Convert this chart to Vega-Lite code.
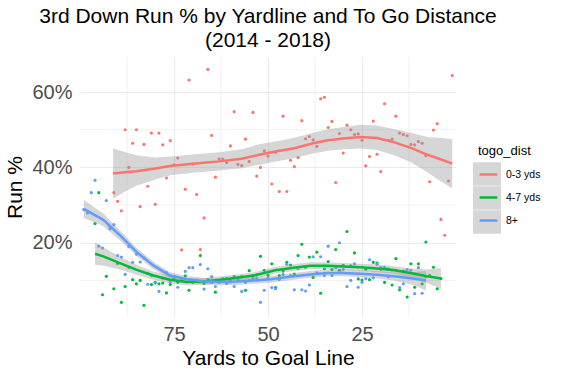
{
"$schema":"https://vega.github.io/schema/vega-lite/v6.json",
"width":376,"height":260,
"autosize":{"type":"none"},
"padding":{"left":80,"top":57,"right":105,"bottom":57},
"background":"white",
"title":{"text":["3rd Down Run % by Yardline and To Go Distance","(2014 - 2018)"],"fontSize":21,"font":"Liberation Sans","fontWeight":"normal","color":"#000","anchor":"middle","lineHeight":24,"offset":6,"frame":"group"},
"config":{"font":"Liberation Sans","view":{"stroke":null},
"axis":{"labelFont":"Liberation Sans","titleFont":"Liberation Sans","labelFontSize":20,"labelColor":"#4d4d4d","domain":false,"ticks":false,"gridColor":"#ebebeb","gridWidth":1.1,"titleFontSize":21,"titleFontWeight":"normal","titleColor":"#000"},
"legend":{"labelFont":"Liberation Sans","titleFont":"Liberation Sans"}},
"datasets":{
"pts":[
{"x":91,"y":0.333,"g":"0-3 yds"},{"x":90,"y":0.310,"g":"0-3 yds"},{"x":89,"y":0.285,"g":"0-3 yds"},{"x":88,"y":0.500,"g":"0-3 yds"},{"x":87,"y":0.400,"g":"0-3 yds"},{"x":86,"y":0.464,"g":"0-3 yds"},{"x":85,"y":0.500,"g":"0-3 yds"},{"x":84,"y":0.296,"g":"0-3 yds"},{"x":83,"y":0.461,"g":"0-3 yds"},{"x":82,"y":0.350,"g":"0-3 yds"},{"x":81,"y":0.491,"g":"0-3 yds"},{"x":80,"y":0.302,"g":"0-3 yds"},{"x":79,"y":0.491,"g":"0-3 yds"},{"x":78,"y":0.460,"g":"0-3 yds"},{"x":77,"y":0.372,"g":"0-3 yds"},{"x":76,"y":0.471,"g":"0-3 yds"},{"x":75,"y":0.407,"g":"0-3 yds"},{"x":74,"y":0.425,"g":"0-3 yds"},{"x":73,"y":0.181,"g":"0-3 yds"},{"x":72,"y":0.342,"g":"0-3 yds"},{"x":71,"y":0.632,"g":"0-3 yds"},{"x":70,"y":0.409,"g":"0-3 yds"},{"x":69,"y":0.328,"g":"0-3 yds"},{"x":68,"y":0.182,"g":"0-3 yds"},{"x":67,"y":0.266,"g":"0-3 yds"},{"x":66,"y":0.660,"g":"0-3 yds"},{"x":65,"y":0.485,"g":"0-3 yds"},{"x":64,"y":0.374,"g":"0-3 yds"},{"x":63,"y":0.422,"g":"0-3 yds"},{"x":62,"y":0.422,"g":"0-3 yds"},{"x":61,"y":0.413,"g":"0-3 yds"},{"x":60,"y":0.457,"g":"0-3 yds"},{"x":59,"y":0.548,"g":"0-3 yds"},{"x":58,"y":0.408,"g":"0-3 yds"},{"x":57,"y":0.405,"g":"0-3 yds"},{"x":56,"y":0.475,"g":"0-3 yds"},{"x":55,"y":0.416,"g":"0-3 yds"},{"x":54,"y":0.546,"g":"0-3 yds"},{"x":53,"y":0.377,"g":"0-3 yds"},{"x":52,"y":0.400,"g":"0-3 yds"},{"x":51,"y":0.444,"g":"0-3 yds"},{"x":50,"y":0.430,"g":"0-3 yds"},{"x":49,"y":0.356,"g":"0-3 yds"},{"x":48,"y":0.440,"g":"0-3 yds"},{"x":47,"y":0.336,"g":"0-3 yds"},{"x":46,"y":0.536,"g":"0-3 yds"},{"x":45,"y":0.336,"g":"0-3 yds"},{"x":44,"y":0.419,"g":"0-3 yds"},{"x":43,"y":0.402,"g":"0-3 yds"},{"x":42,"y":0.426,"g":"0-3 yds"},{"x":41,"y":0.524,"g":"0-3 yds"},{"x":40,"y":0.476,"g":"0-3 yds"},{"x":39,"y":0.482,"g":"0-3 yds"},{"x":38,"y":0.473,"g":"0-3 yds"},{"x":37,"y":0.456,"g":"0-3 yds"},{"x":36,"y":0.582,"g":"0-3 yds"},{"x":35,"y":0.586,"g":"0-3 yds"},{"x":34,"y":0.506,"g":"0-3 yds"},{"x":33,"y":0.522,"g":"0-3 yds"},{"x":32,"y":0.360,"g":"0-3 yds"},{"x":31,"y":0.490,"g":"0-3 yds"},{"x":30,"y":0.438,"g":"0-3 yds"},{"x":29,"y":0.512,"g":"0-3 yds"},{"x":28,"y":0.500,"g":"0-3 yds"},{"x":27,"y":0.487,"g":"0-3 yds"},{"x":26,"y":0.489,"g":"0-3 yds"},{"x":25,"y":0.472,"g":"0-3 yds"},{"x":24,"y":0.404,"g":"0-3 yds"},{"x":23,"y":0.429,"g":"0-3 yds"},{"x":22,"y":0.523,"g":"0-3 yds"},{"x":21,"y":0.435,"g":"0-3 yds"},{"x":20,"y":0.389,"g":"0-3 yds"},{"x":19,"y":0.569,"g":"0-3 yds"},{"x":18,"y":0.472,"g":"0-3 yds"},{"x":17,"y":0.475,"g":"0-3 yds"},{"x":16,"y":0.536,"g":"0-3 yds"},{"x":15,"y":0.491,"g":"0-3 yds"},{"x":14,"y":0.487,"g":"0-3 yds"},{"x":13,"y":0.484,"g":"0-3 yds"},{"x":12,"y":0.461,"g":"0-3 yds"},{"x":11,"y":0.460,"g":"0-3 yds"},{"x":10,"y":0.469,"g":"0-3 yds"},{"x":9,"y":0.464,"g":"0-3 yds"},{"x":8,"y":0.431,"g":"0-3 yds"},{"x":7,"y":0.362,"g":"0-3 yds"},{"x":6,"y":0.499,"g":"0-3 yds"},{"x":5,"y":0.516,"g":"0-3 yds"},{"x":4,"y":0.262,"g":"0-3 yds"},{"x":3,"y":0.220,"g":"0-3 yds"},{"x":2,"y":0.364,"g":"0-3 yds"},{"x":1,"y":0.644,"g":"0-3 yds"},
{"x":96,"y":0.251,"g":"4-7 yds"},{"x":95,"y":0.333,"g":"4-7 yds"},{"x":94,"y":0.062,"g":"4-7 yds"},{"x":93,"y":0.111,"g":"4-7 yds"},{"x":92,"y":0.243,"g":"4-7 yds"},{"x":91,"y":0.078,"g":"4-7 yds"},{"x":90,"y":0.145,"g":"4-7 yds"},{"x":89,"y":0.042,"g":"4-7 yds"},{"x":88,"y":0.084,"g":"4-7 yds"},{"x":87,"y":0.135,"g":"4-7 yds"},{"x":86,"y":0.102,"g":"4-7 yds"},{"x":85,"y":0.091,"g":"4-7 yds"},{"x":84,"y":0.100,"g":"4-7 yds"},{"x":83,"y":0.034,"g":"4-7 yds"},{"x":82,"y":0.119,"g":"4-7 yds"},{"x":81,"y":0.089,"g":"4-7 yds"},{"x":80,"y":0.095,"g":"4-7 yds"},{"x":79,"y":0.091,"g":"4-7 yds"},{"x":78,"y":0.093,"g":"4-7 yds"},{"x":77,"y":0.067,"g":"4-7 yds"},{"x":76,"y":0.089,"g":"4-7 yds"},{"x":75,"y":0.105,"g":"4-7 yds"},{"x":74,"y":0.095,"g":"4-7 yds"},{"x":73,"y":0.100,"g":"4-7 yds"},{"x":72,"y":0.112,"g":"4-7 yds"},{"x":71,"y":0.074,"g":"4-7 yds"},{"x":70,"y":0.095,"g":"4-7 yds"},{"x":69,"y":0.100,"g":"4-7 yds"},{"x":68,"y":0.166,"g":"4-7 yds"},{"x":67,"y":0.092,"g":"4-7 yds"},{"x":66,"y":0.102,"g":"4-7 yds"},{"x":65,"y":0.095,"g":"4-7 yds"},{"x":64,"y":0.069,"g":"4-7 yds"},{"x":63,"y":0.100,"g":"4-7 yds"},{"x":62,"y":0.104,"g":"4-7 yds"},{"x":61,"y":0.105,"g":"4-7 yds"},{"x":60,"y":0.100,"g":"4-7 yds"},{"x":59,"y":0.110,"g":"4-7 yds"},{"x":58,"y":0.107,"g":"4-7 yds"},{"x":57,"y":0.110,"g":"4-7 yds"},{"x":56,"y":0.074,"g":"4-7 yds"},{"x":55,"y":0.126,"g":"4-7 yds"},{"x":54,"y":0.113,"g":"4-7 yds"},{"x":53,"y":0.115,"g":"4-7 yds"},{"x":52,"y":0.164,"g":"4-7 yds"},{"x":51,"y":0.127,"g":"4-7 yds"},{"x":50,"y":0.114,"g":"4-7 yds"},{"x":49,"y":0.144,"g":"4-7 yds"},{"x":48,"y":0.081,"g":"4-7 yds"},{"x":47,"y":0.113,"g":"4-7 yds"},{"x":46,"y":0.125,"g":"4-7 yds"},{"x":45,"y":0.148,"g":"4-7 yds"},{"x":44,"y":0.141,"g":"4-7 yds"},{"x":43,"y":0.117,"g":"4-7 yds"},{"x":42,"y":0.166,"g":"4-7 yds"},{"x":41,"y":0.196,"g":"4-7 yds"},{"x":40,"y":0.135,"g":"4-7 yds"},{"x":39,"y":0.162,"g":"4-7 yds"},{"x":38,"y":0.108,"g":"4-7 yds"},{"x":37,"y":0.175,"g":"4-7 yds"},{"x":36,"y":0.066,"g":"4-7 yds"},{"x":35,"y":0.131,"g":"4-7 yds"},{"x":34,"y":0.150,"g":"4-7 yds"},{"x":33,"y":0.129,"g":"4-7 yds"},{"x":32,"y":0.182,"g":"4-7 yds"},{"x":31,"y":0.127,"g":"4-7 yds"},{"x":30,"y":0.140,"g":"4-7 yds"},{"x":29,"y":0.230,"g":"4-7 yds"},{"x":28,"y":0.139,"g":"4-7 yds"},{"x":27,"y":0.173,"g":"4-7 yds"},{"x":26,"y":0.104,"g":"4-7 yds"},{"x":25,"y":0.101,"g":"4-7 yds"},{"x":24,"y":0.130,"g":"4-7 yds"},{"x":23,"y":0.102,"g":"4-7 yds"},{"x":22,"y":0.148,"g":"4-7 yds"},{"x":21,"y":0.146,"g":"4-7 yds"},{"x":20,"y":0.130,"g":"4-7 yds"},{"x":19,"y":0.095,"g":"4-7 yds"},{"x":18,"y":0.130,"g":"4-7 yds"},{"x":17,"y":0.088,"g":"4-7 yds"},{"x":16,"y":0.158,"g":"4-7 yds"},{"x":15,"y":0.075,"g":"4-7 yds"},{"x":14,"y":0.125,"g":"4-7 yds"},{"x":13,"y":0.056,"g":"4-7 yds"},{"x":12,"y":0.144,"g":"4-7 yds"},{"x":11,"y":0.082,"g":"4-7 yds"},{"x":10,"y":0.144,"g":"4-7 yds"},{"x":9,"y":0.091,"g":"4-7 yds"},{"x":8,"y":0.202,"g":"4-7 yds"},{"x":7,"y":0.113,"g":"4-7 yds"},{"x":6,"y":0.135,"g":"4-7 yds"},{"x":5,"y":0.078,"g":"4-7 yds"},{"x":4,"y":0.105,"g":"4-7 yds"},
{"x":99,"y":0.288,"g":"8+"},{"x":98,"y":0.279,"g":"8+"},{"x":97,"y":0.333,"g":"8+"},{"x":96,"y":0.366,"g":"8+"},{"x":95,"y":0.191,"g":"8+"},{"x":94,"y":0.186,"g":"8+"},{"x":93,"y":0.312,"g":"8+"},{"x":92,"y":0.237,"g":"8+"},{"x":91,"y":0.248,"g":"8+"},{"x":90,"y":0.166,"g":"8+"},{"x":89,"y":0.162,"g":"8+"},{"x":88,"y":0.116,"g":"8+"},{"x":87,"y":0.190,"g":"8+"},{"x":86,"y":0.148,"g":"8+"},{"x":85,"y":0.170,"g":"8+"},{"x":84,"y":0.149,"g":"8+"},{"x":83,"y":0.160,"g":"8+"},{"x":82,"y":0.090,"g":"8+"},{"x":81,"y":0.113,"g":"8+"},{"x":80,"y":0.093,"g":"8+"},{"x":79,"y":0.071,"g":"8+"},{"x":78,"y":0.106,"g":"8+"},{"x":77,"y":0.121,"g":"8+"},{"x":76,"y":0.096,"g":"8+"},{"x":75,"y":0.110,"g":"8+"},{"x":74,"y":0.082,"g":"8+"},{"x":73,"y":0.105,"g":"8+"},{"x":72,"y":0.124,"g":"8+"},{"x":71,"y":0.134,"g":"8+"},{"x":70,"y":0.134,"g":"8+"},{"x":69,"y":0.100,"g":"8+"},{"x":68,"y":0.142,"g":"8+"},{"x":67,"y":0.077,"g":"8+"},{"x":66,"y":0.131,"g":"8+"},{"x":65,"y":0.110,"g":"8+"},{"x":64,"y":0.084,"g":"8+"},{"x":63,"y":0.095,"g":"8+"},{"x":62,"y":0.098,"g":"8+"},{"x":61,"y":0.092,"g":"8+"},{"x":60,"y":0.096,"g":"8+"},{"x":59,"y":0.084,"g":"8+"},{"x":58,"y":0.102,"g":"8+"},{"x":57,"y":0.071,"g":"8+"},{"x":56,"y":0.095,"g":"8+"},{"x":55,"y":0.100,"g":"8+"},{"x":54,"y":0.105,"g":"8+"},{"x":53,"y":0.105,"g":"8+"},{"x":52,"y":0.042,"g":"8+"},{"x":51,"y":0.074,"g":"8+"},{"x":50,"y":0.106,"g":"8+"},{"x":49,"y":0.081,"g":"8+"},{"x":48,"y":0.078,"g":"8+"},{"x":47,"y":0.103,"g":"8+"},{"x":46,"y":0.116,"g":"8+"},{"x":45,"y":0.143,"g":"8+"},{"x":44,"y":0.113,"g":"8+"},{"x":43,"y":0.075,"g":"8+"},{"x":42,"y":0.131,"g":"8+"},{"x":41,"y":0.075,"g":"8+"},{"x":40,"y":0.072,"g":"8+"},{"x":39,"y":0.088,"g":"8+"},{"x":38,"y":0.163,"g":"8+"},{"x":37,"y":0.120,"g":"8+"},{"x":36,"y":0.163,"g":"8+"},{"x":35,"y":0.113,"g":"8+"},{"x":34,"y":0.191,"g":"8+"},{"x":33,"y":0.113,"g":"8+"},{"x":32,"y":0.134,"g":"8+"},{"x":31,"y":0.200,"g":"8+"},{"x":30,"y":0.129,"g":"8+"},{"x":29,"y":0.084,"g":"8+"},{"x":28,"y":0.100,"g":"8+"},{"x":27,"y":0.144,"g":"8+"},{"x":26,"y":0.082,"g":"8+"},{"x":25,"y":0.095,"g":"8+"},{"x":24,"y":0.105,"g":"8+"},{"x":23,"y":0.155,"g":"8+"},{"x":22,"y":0.107,"g":"8+"},{"x":21,"y":0.143,"g":"8+"},{"x":20,"y":0.134,"g":"8+"},{"x":19,"y":0.135,"g":"8+"},{"x":18,"y":0.110,"g":"8+"},{"x":17,"y":0.127,"g":"8+"},{"x":16,"y":0.127,"g":"8+"},{"x":15,"y":0.081,"g":"8+"},{"x":14,"y":0.091,"g":"8+"},{"x":13,"y":0.129,"g":"8+"},{"x":12,"y":0.127,"g":"8+"},{"x":11,"y":0.065,"g":"8+"},{"x":10,"y":0.134,"g":"8+"},{"x":9,"y":0.066,"g":"8+"},{"x":8,"y":0.110,"g":"8+"}
],
"fit":[
{"x":91.2,"f":0.384,"lo":0.317,"hi":0.451,"g":"0-3 yds","k":"0-3 yds"},{"x":88,"f":0.387,"lo":0.336,"hi":0.440,"g":"0-3 yds","k":"0-3 yds"},{"x":85,"f":0.390,"lo":0.351,"hi":0.432,"g":"0-3 yds","k":"0-3 yds"},{"x":80,"f":0.397,"lo":0.368,"hi":0.426,"g":"0-3 yds","k":"0-3 yds"},{"x":76,"f":0.404,"lo":0.379,"hi":0.429,"g":"0-3 yds","k":"0-3 yds"},{"x":70,"f":0.410,"lo":0.386,"hi":0.434,"g":"0-3 yds","k":"0-3 yds"},{"x":63,"f":0.416,"lo":0.392,"hi":0.440,"g":"0-3 yds","k":"0-3 yds"},{"x":57,"f":0.423,"lo":0.398,"hi":0.448,"g":"0-3 yds","k":"0-3 yds"},{"x":52,"f":0.434,"lo":0.408,"hi":0.462,"g":"0-3 yds","k":"0-3 yds"},{"x":48,"f":0.442,"lo":0.416,"hi":0.469,"g":"0-3 yds","k":"0-3 yds"},{"x":43,"f":0.451,"lo":0.424,"hi":0.479,"g":"0-3 yds","k":"0-3 yds"},{"x":38,"f":0.464,"lo":0.437,"hi":0.492,"g":"0-3 yds","k":"0-3 yds"},{"x":34,"f":0.472,"lo":0.444,"hi":0.501,"g":"0-3 yds","k":"0-3 yds"},{"x":30,"f":0.477,"lo":0.448,"hi":0.507,"g":"0-3 yds","k":"0-3 yds"},{"x":25.5,"f":0.481,"lo":0.450,"hi":0.513,"g":"0-3 yds","k":"0-3 yds"},{"x":21,"f":0.478,"lo":0.446,"hi":0.511,"g":"0-3 yds","k":"0-3 yds"},{"x":16.6,"f":0.467,"lo":0.433,"hi":0.502,"g":"0-3 yds","k":"0-3 yds"},{"x":12,"f":0.452,"lo":0.414,"hi":0.492,"g":"0-3 yds","k":"0-3 yds"},{"x":7.7,"f":0.434,"lo":0.388,"hi":0.481,"g":"0-3 yds","k":"0-3 yds"},{"x":4.5,"f":0.423,"lo":0.366,"hi":0.479,"g":"0-3 yds","k":"0-3 yds"},{"x":1,"f":0.410,"lo":0.344,"hi":0.475,"g":"0-3 yds","k":"0-3 yds"},
{"x":96,"f":0.171,"lo":0.141,"hi":0.201,"g":"4-7 yds","k":"4-7 yds"},{"x":93.8,"f":0.164,"lo":0.140,"hi":0.188,"g":"4-7 yds","k":"4-7 yds"},{"x":89.4,"f":0.146,"lo":0.129,"hi":0.163,"g":"4-7 yds","k":"4-7 yds"},{"x":84.9,"f":0.128,"lo":0.115,"hi":0.141,"g":"4-7 yds","k":"4-7 yds"},{"x":80.5,"f":0.113,"lo":0.102,"hi":0.124,"g":"4-7 yds","k":"4-7 yds"},{"x":76.1,"f":0.102,"lo":0.092,"hi":0.112,"g":"4-7 yds","k":"4-7 yds"},{"x":71.6,"f":0.096,"lo":0.087,"hi":0.105,"g":"4-7 yds","k":"4-7 yds"},{"x":67.2,"f":0.097,"lo":0.088,"hi":0.106,"g":"4-7 yds","k":"4-7 yds"},{"x":62.7,"f":0.102,"lo":0.093,"hi":0.111,"g":"4-7 yds","k":"4-7 yds"},{"x":58.3,"f":0.107,"lo":0.098,"hi":0.116,"g":"4-7 yds","k":"4-7 yds"},{"x":53.8,"f":0.113,"lo":0.104,"hi":0.122,"g":"4-7 yds","k":"4-7 yds"},{"x":48.1,"f":0.127,"lo":0.118,"hi":0.136,"g":"4-7 yds","k":"4-7 yds"},{"x":43.2,"f":0.134,"lo":0.125,"hi":0.143,"g":"4-7 yds","k":"4-7 yds"},{"x":38.8,"f":0.139,"lo":0.130,"hi":0.148,"g":"4-7 yds","k":"4-7 yds"},{"x":34.3,"f":0.139,"lo":0.130,"hi":0.148,"g":"4-7 yds","k":"4-7 yds"},{"x":29.9,"f":0.137,"lo":0.128,"hi":0.146,"g":"4-7 yds","k":"4-7 yds"},{"x":25.5,"f":0.135,"lo":0.126,"hi":0.144,"g":"4-7 yds","k":"4-7 yds"},{"x":21,"f":0.132,"lo":0.122,"hi":0.142,"g":"4-7 yds","k":"4-7 yds"},{"x":16.6,"f":0.128,"lo":0.118,"hi":0.138,"g":"4-7 yds","k":"4-7 yds"},{"x":12.1,"f":0.120,"lo":0.108,"hi":0.132,"g":"4-7 yds","k":"4-7 yds"},{"x":7.7,"f":0.111,"lo":0.093,"hi":0.129,"g":"4-7 yds","k":"4-7 yds"},{"x":4,"f":0.105,"lo":0.077,"hi":0.133,"g":"4-7 yds","k":"4-7 yds"},
{"x":99,"f":0.290,"lo":0.266,"hi":0.314,"g":"8+","k":"8+"},{"x":96.5,"f":0.276,"lo":0.256,"hi":0.296,"g":"8+","k":"8+"},{"x":93.8,"f":0.261,"lo":0.244,"hi":0.278,"g":"8+","k":"8+"},{"x":89.4,"f":0.220,"lo":0.207,"hi":0.233,"g":"8+","k":"8+"},{"x":84.9,"f":0.175,"lo":0.164,"hi":0.186,"g":"8+","k":"8+"},{"x":80.5,"f":0.140,"lo":0.130,"hi":0.150,"g":"8+","k":"8+"},{"x":76.1,"f":0.113,"lo":0.104,"hi":0.122,"g":"8+","k":"8+"},{"x":71.6,"f":0.103,"lo":0.094,"hi":0.112,"g":"8+","k":"8+"},{"x":67.2,"f":0.098,"lo":0.089,"hi":0.107,"g":"8+","k":"8+"},{"x":62.7,"f":0.096,"lo":0.087,"hi":0.105,"g":"8+","k":"8+"},{"x":58.3,"f":0.097,"lo":0.088,"hi":0.106,"g":"8+","k":"8+"},{"x":53.8,"f":0.100,"lo":0.091,"hi":0.109,"g":"8+","k":"8+"},{"x":49.4,"f":0.103,"lo":0.094,"hi":0.112,"g":"8+","k":"8+"},{"x":43.2,"f":0.111,"lo":0.102,"hi":0.120,"g":"8+","k":"8+"},{"x":38.8,"f":0.116,"lo":0.107,"hi":0.125,"g":"8+","k":"8+"},{"x":34.3,"f":0.120,"lo":0.111,"hi":0.129,"g":"8+","k":"8+"},{"x":29.9,"f":0.120,"lo":0.111,"hi":0.129,"g":"8+","k":"8+"},{"x":25.5,"f":0.118,"lo":0.109,"hi":0.127,"g":"8+","k":"8+"},{"x":21,"f":0.115,"lo":0.105,"hi":0.125,"g":"8+","k":"8+"},{"x":16.6,"f":0.111,"lo":0.100,"hi":0.122,"g":"8+","k":"8+"},{"x":12,"f":0.106,"lo":0.090,"hi":0.122,"g":"8+","k":"8+"},{"x":8,"f":0.100,"lo":0.074,"hi":0.126,"g":"8+","k":"8+"}
]},
"layer":[
{"data":{"values":[{"y":0.1},{"y":0.3},{"y":0.5}]},
 "mark":{"type":"rule","color":"#ebebeb","strokeWidth":0.7},
 "encoding":{"y":{"field":"y","type":"quantitative","title":"Run %"}}},
{"data":{"values":[{"x":87.5},{"x":62.5},{"x":37.5},{"x":12.5}]},
 "mark":{"type":"rule","color":"#ebebeb","strokeWidth":0.7},
 "encoding":{"x":{"field":"x","type":"quantitative","title":"Yards to Goal Line"}}},
{"data":{"name":"pts"},
 "mark":{"type":"circle","size":10,"opacity":1},
 "encoding":{
  "x":{"field":"x","type":"quantitative","title":"Yards to Goal Line","scale":{"domain":[0,100],"reverse":true,"nice":false,"zero":false},"axis":{"values":[25,50,75],"grid":true,"labelPadding":7,"titlePadding":3}},
  "y":{"field":"y","type":"quantitative","title":"Run %","scale":{"domain":[0.003,0.693],"nice":false,"zero":false},"axis":{"values":[0.2,0.4,0.6],"format":".0%","grid":true,"labelPadding":8,"titlePadding":6}},
  "color":{"field":"g","type":"nominal","title":"togo_dist","scale":{"domain":["0-3 yds","4-7 yds","8+"],"range":["#F8766D","#00BA38","#619CFF"]},
   "legend":{"orient":"none","legendX":398,"legendY":88,"zindex":2,"titleFontSize":13,"titleFontWeight":"normal","titleColor":"#000","titlePadding":6,"padding":0,"symbolType":"stroke","symbolSize":313,"symbolStrokeWidth":2.5,"rowPadding":7,"labelFontSize":10.5,"labelColor":"#000","labelOffset":7}}}},
{"data":{"name":"fit"},
 "mark":{"type":"area","opacity":0.4},
 "encoding":{
  "x":{"field":"x","type":"quantitative","title":"Yards to Goal Line"},
  "y":{"field":"lo","type":"quantitative","title":"Run %"},
  "y2":{"field":"hi"},
  "fill":{"field":"k","type":"nominal","scale":{"range":["#999999","#999999","#999999"]},
   "legend":{"orient":"none","legendX":395,"legendY":105,"zindex":1,"padding":0,"title":null,"symbolType":"M-1.19,-1H1.19V1H-1.19Z","symbolSize":552,"symbolStrokeWidth":0,"symbolOpacity":0.4,"rowPadding":0,"labelExpr":"''"}}}},
{"data":{"name":"fit"},
 "mark":{"type":"line","strokeWidth":2.5},
 "encoding":{
  "x":{"field":"x","type":"quantitative","title":"Yards to Goal Line"},
  "y":{"field":"f","type":"quantitative","title":"Run %"},
  "color":{"field":"g","type":"nominal","title":"togo_dist"}}}
]
}
